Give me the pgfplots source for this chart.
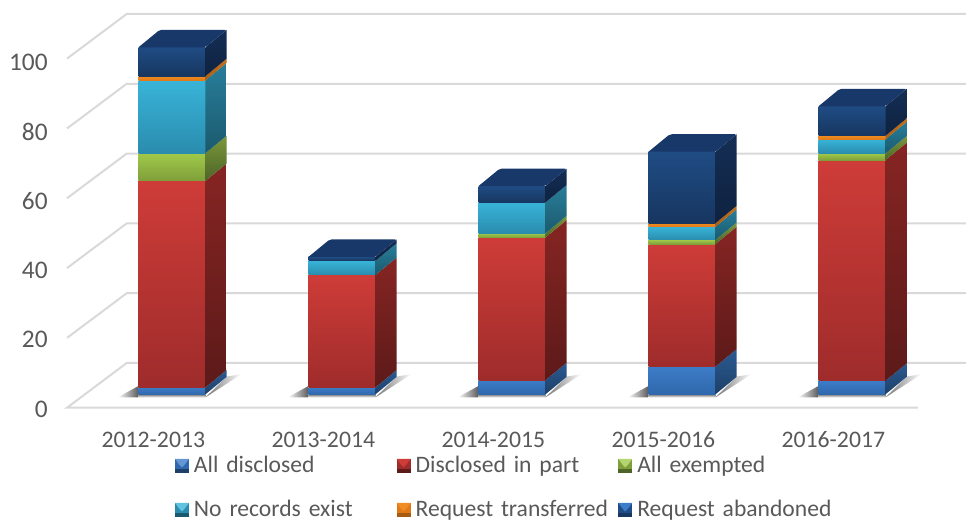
\documentclass[border=0pt]{standalone}
\usepackage{fontspec}
\setmainfont{Carlito}
\usepackage{pgfplots}
\pgfplotsset{compat=1.18}

\definecolor{txt}{HTML}{595959}
\definecolor{gridc}{HTML}{D9D9D9}
% front top, front bottom, side top, side bottom
\definecolor{blueFT}{HTML}{3D7CC8}\definecolor{blueFB}{HTML}{2F68AC}\definecolor{blueST}{HTML}{2A5A92}\definecolor{blueSB}{HTML}{1E4068}
\definecolor{redFT}{HTML}{CE3C38}\definecolor{redFB}{HTML}{9E2C2B}\definecolor{redST}{HTML}{862523}\definecolor{redSB}{HTML}{5C1A19}
\definecolor{greenFT}{HTML}{A0C94A}\definecolor{greenFB}{HTML}{7F9F3A}\definecolor{greenST}{HTML}{7A983A}\definecolor{greenSB}{HTML}{4E6428}
\definecolor{tealFT}{HTML}{38B4D8}\definecolor{tealFB}{HTML}{2A8CAE}\definecolor{tealST}{HTML}{287E9A}\definecolor{tealSB}{HTML}{1B5A6E}
\definecolor{orangeFT}{HTML}{F08C22}\definecolor{orangeFB}{HTML}{E07A18}\definecolor{orangeST}{HTML}{C87018}\definecolor{orangeSB}{HTML}{A85C12}
\definecolor{navyFT}{HTML}{1F4C84}\definecolor{navyFB}{HTML}{173660}\definecolor{navyST}{HTML}{142E54}\definecolor{navySB}{HTML}{0F2240}
\definecolor{navyTop}{HTML}{18386A}

\newcommand{\seg}[4]{%
  \pgfmathsetmacro\xl{#1-0.197}\pgfmathsetmacro\xr{#1+0.197}\pgfmathsetmacro\xb{#1+0.322}%
  \pgfmathsetmacro\lob{#2+5.04}\pgfmathsetmacro\hib{#3+5.04}%
  \addplot[draw=none,forget plot,top color=#4FT,bottom color=#4FB] coordinates {(\xl,#2) (\xr,#2) (\xr,#3) (\xl,#3) (\xl,#2)};
  \addplot[draw=none,forget plot,top color=#4ST,bottom color=#4SB] coordinates {(\xr,#2) (\xb,\lob) (\xb,\hib) (\xr,#3) (\xr,#2)};
}
\newcommand{\toplid}[2]{%
  \pgfmathsetmacro\xl{#1-0.197}\pgfmathsetmacro\xr{#1+0.197}\pgfmathsetmacro\xb{#1+0.322}\pgfmathsetmacro\xc{#1-0.072}%
  \pgfmathsetmacro\hib{#2+5.04}%
  \addplot[draw=none,forget plot,fill=navyTop,rounded corners=1.5pt] coordinates {(\xl,#2) (\xr,#2) (\xb,\hib) (\xc,\hib) (\xl,#2)};
}
\newcommand{\shadow}[1]{%
  \pgfmathsetmacro\xl{#1-0.197}\pgfmathsetmacro\xll{#1-0.32}\pgfmathsetmacro\xr{#1+0.197}\pgfmathsetmacro\xrr{#1+0.41}\pgfmathsetmacro\xb{#1+0.322}%
  \addplot[draw=none,forget plot,left color=white,right color=black!65] coordinates {(\xll,-0.9) (\xl,2.4) (\xl,-0.9) (\xll,-0.9)};
  \addplot[draw=none,forget plot,left color=black!55,right color=white] coordinates {(\xr,-0.9) (\xb,5.1) (\xrr,5.85) (\xr,-0.9)};
  \addplot[draw=none,forget plot,top color=black!55,bottom color=white] coordinates {(\xl,0) (\xr,0) (\xr,-0.9) (\xl,-0.9) (\xl,0)};
}
% legend symbol: dark frame with a light wedge from the top, room for the gap before the text
\newcommand{\legbox}[3]{%
  \path[draw=none,fill=none] (0,0) rectangle (19*.75pt,1pt);
  \fill[#2,draw=none] (0,-6.5*.75pt) rectangle (14*.75pt,7.5*.75pt);
  \fill[#1,draw=none] (0,7.5*.75pt) -- (14*.75pt,7.5*.75pt) -- (10*.75pt,2*.75pt) -- (7*.75pt,-1*.75pt) -- (4*.75pt,2*.75pt) -- cycle;
  \fill[#3,draw=none] (0,-6.5*.75pt) rectangle (14*.75pt,-3*.75pt);
}

\begin{document}
\begin{tikzpicture}
\path[use as bounding box] (0,0) rectangle (724.5pt,390pt);
\begin{axis}[
    at={(50.25pt,84.225pt)}, anchor=south west,
    scale only axis, width=674.25pt, height=305.775pt,
    xmin=-0.6176, xmax=4.6706, ymin=-3.862, ymax=113.63,
    clip=false,
    axis line style={draw=none}, tick style={draw=none},
    xtick={0,1,2,3,4},
    xticklabels={2012-2013,2013-2014,2014-2015,2015-2016,2016-2017},
    ytick={0,20,40,60,80,100},
    /pgf/number format/assume math mode=true,
    tick label style={text=txt},
    xticklabel style={font=\fontsize{17.8pt}{20pt}\selectfont,anchor=base,xshift=-14pt,yshift=-30.2pt},
    yticklabel style={font=\fontsize{19pt}{20pt}\selectfont,anchor=east,xshift=-11pt,yshift=-11.2pt},
    legend columns=3,
    legend cell align=left,
    legend style={
        at={(axis description cs:0.1201,-0.1160)}, anchor=north west,
        draw=none, fill=none, inner sep=0pt, outer sep=0pt,
        /tikz/column sep=0pt, /tikz/row sep=16pt,
        font=\fontsize{17.7pt}{20pt}\selectfont, text=txt,
        nodes={inner sep=0pt, text width=152pt, text height=13pt, text depth=4pt},
    },
]
% grid on the back wall and the side of the floor
\addplot[gridc,line width=1.5pt,forget plot] coordinates {(4.388,-3.86) (-0.6176,-3.86) (-0.2665,9.02) (4.6706,9.02)};
\addplot[gridc,line width=1.5pt,forget plot] coordinates {(-0.6176,16.25) (-0.2665,29.13) (4.6706,29.13)};
\addplot[gridc,line width=1.5pt,forget plot] coordinates {(-0.6176,36.37) (-0.2665,49.25) (4.6706,49.25)};
\addplot[gridc,line width=1.5pt,forget plot] coordinates {(-0.6176,56.49) (-0.2665,69.37) (4.6706,69.37)};
\addplot[gridc,line width=1.5pt,forget plot] coordinates {(-0.6176,76.6) (-0.2665,89.48) (4.6706,89.48)};
\addplot[gridc,line width=1.5pt,forget plot] coordinates {(-0.6176,96.74) (-0.2665,109.6) (4.6706,109.6)};

\shadow{0}\shadow{1}\shadow{2}\shadow{3}\shadow{4}

% 2012-2013
\seg{0}{0}{2}{blue}\seg{0}{2}{61.5}{red}\seg{0}{61.5}{69.5}{green}\seg{0}{69.5}{90.5}{teal}\seg{0}{90.5}{91.7}{orange}\seg{0}{91.7}{100}{navy}\toplid{0}{100}
% 2013-2014
\seg{1}{0}{2}{blue}\seg{1}{2}{34.4}{red}\seg{1}{34.4}{38.5}{teal}\seg{1}{38.5}{39.6}{navy}\toplid{1}{39.6}
% 2014-2015
\seg{2}{0}{4.1}{blue}\seg{2}{4.1}{45.2}{red}\seg{2}{45.2}{46.4}{green}\seg{2}{46.4}{55.3}{teal}\seg{2}{55.3}{60}{navy}\toplid{2}{60}
% 2015-2016
\seg{3}{0}{8}{blue}\seg{3}{8}{43.3}{red}\seg{3}{43.3}{44.5}{green}\seg{3}{44.5}{48.3}{teal}\seg{3}{48.3}{49.3}{orange}\seg{3}{49.3}{69.9}{navy}\toplid{3}{69.9}
% 2016-2017
\seg{4}{0}{3.9}{blue}\seg{4}{3.9}{67.5}{red}\seg{4}{67.5}{69.4}{green}\seg{4}{69.4}{73.5}{teal}\seg{4}{73.5}{74.5}{orange}\seg{4}{74.5}{83}{navy}\toplid{4}{83}

\addlegendimage{legend image code/.code={\legbox{blueFT!80!white}{blueFB}{blueSB}}}
\addlegendentry{All disclosed}
\addlegendimage{legend image code/.code={\legbox{redFT}{redFB}{redSB}}}
\addlegendentry{Disclosed in part}
\addlegendimage{legend image code/.code={\legbox{greenFT!80!white}{greenFB}{greenSB}}}
\addlegendentry{All exempted}
\addlegendimage{legend image code/.code={\legbox{tealFT!80!white}{tealFB}{tealSB}}}
\addlegendentry{No records exist}
\addlegendimage{legend image code/.code={\legbox{orangeFT}{orangeFB}{orangeSB}}}
\addlegendentry{Request transferred}
\addlegendimage{legend image code/.code={\legbox{blueFT}{navyFT}{navyFB}}}
\addlegendentry{Request abandoned}
\end{axis}
\end{tikzpicture}
\end{document}
